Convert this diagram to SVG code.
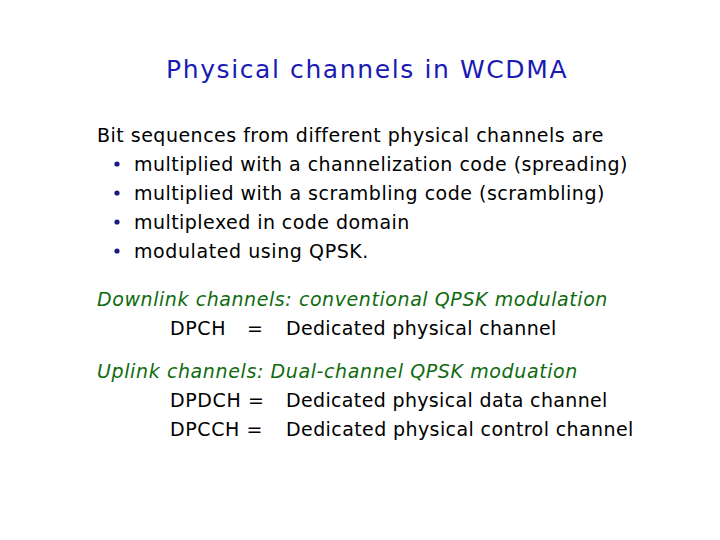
<svg xmlns="http://www.w3.org/2000/svg" width="720" height="540" viewBox="0 0 720 540">
<style>
text{font-family:"DejaVu Sans",Verdana,sans-serif;font-size:19px;fill:#000;letter-spacing:0.6px}
.t{font-size:25px;fill:#1a1ab4;letter-spacing:0.5px}
.g{font-style:italic;fill:#0e6b0e}
</style>
<rect width="720" height="540" fill="#fff"/>
<text class="t" x="166" y="78" textLength="401">Physical channels in WCDMA</text>
<text x="97" y="142" textLength="507">Bit sequences from different physical channels are</text>
<g fill="#1a1a80">
<circle cx="117" cy="164" r="2.6"/><circle cx="117" cy="193" r="2.6"/><circle cx="117" cy="222" r="2.6"/><circle cx="117" cy="251" r="2.6"/>
</g>
<text x="134" y="171" textLength="494">multiplied with a channelization code (spreading)</text>
<text x="134" y="200" textLength="471">multiplied with a scrambling code (scrambling)</text>
<text x="134" y="229" textLength="276">multiplexed in code domain</text>
<text x="134" y="258" textLength="235">modulated using QPSK.</text>
<text class="g" x="97" y="306" textLength="511">Downlink channels: conventional QPSK modulation</text>
<text x="170" y="335">DPCH</text><text x="247" y="335">=</text><text x="286" y="335" textLength="271">Dedicated physical channel</text>
<text class="g" x="97" y="378" textLength="481">Uplink channels: Dual-channel QPSK moduation</text>
<text x="170" y="407">DPDCH =</text><text x="286" y="407" textLength="322">Dedicated physical data channel</text>
<text x="170" y="436">DPCCH =</text><text x="286" y="436" textLength="348">Dedicated physical control channel</text>
</svg>
